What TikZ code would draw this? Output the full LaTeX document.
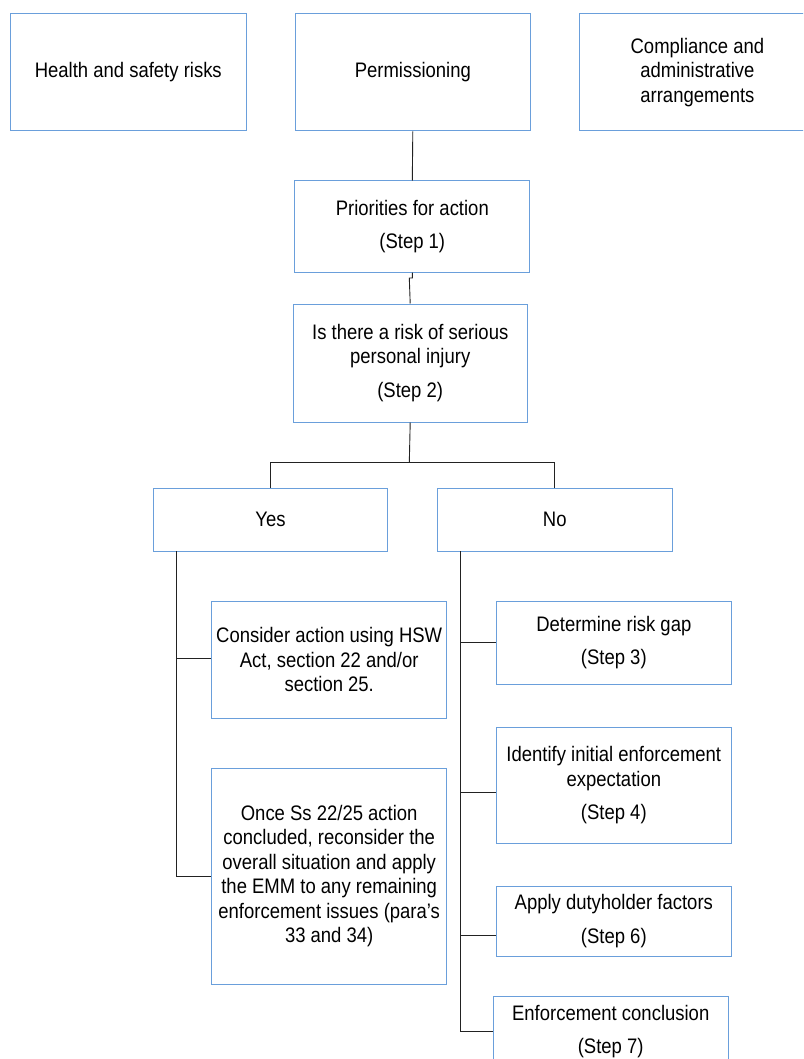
\documentclass[tikz,border=0pt]{standalone}
\usepackage{fontspec}
\setmainfont[FakeStretch=0.88]{Liberation Sans}
\definecolor{boxblue}{HTML}{6A9FDB}
\definecolor{linegray}{HTML}{222222}
\begin{document}
\begin{tikzpicture}[x=1pt,y=-1pt,
  box/.style={draw=boxblue, line width=1pt, fill=white, inner sep=0pt,
    align=center, font=\fontsize{21}{24.5}\selectfont},
  conn/.style={draw=linegray, line width=0.9pt}]
\useasboundingbox (0,0) rectangle (803,1059);
\begin{scope}
\clip (0,0) rectangle (803,1059);
% top row
\node[box, minimum width=235.5pt, minimum height=117pt] (hs) at (128.3,72.5) {Health and safety risks};
\node[box, minimum width=235.5pt, minimum height=117pt] (perm) at (412.8,72.5) {Permissioning};
\node[box, minimum width=235.5pt, minimum height=117pt] (comp) at (697.4,72.5) {Compliance and\\administrative\\arrangements};
% steps
\node[box, minimum width=235.3pt, minimum height=91pt] (pri) at (412.3,226.5) {Priorities for action\\[9pt](Step 1)};
\node[box, minimum width=233.7pt, minimum height=118pt] (s2) at (410.2,363) {Is there a risk of serious\\personal injury\\[9pt](Step 2)};
\node[box, minimum width=234.4pt, minimum height=63pt] (yes) at (270.5,519.5) {Yes};
\node[box, minimum width=235pt, minimum height=63pt] (no) at (554.8,519.5) {No};
% yes branch
\node[box, minimum width=235pt, minimum height=117pt] (hsw) at (329.2,659.5) {Consider action using HSW\\Act, section 22 and/or\\section 25.};
\node[box, minimum width=235pt, minimum height=216pt] (once) at (329.2,876) {Once Ss 22/25 action\\concluded, reconsider the\\overall situation and apply\\the EMM to any remaining\\enforcement issues (para’s\\33 and 34)};
% no branch
\node[box, minimum width=235pt, minimum height=83.3pt] (det) at (613.8,642.7) {Determine risk gap\\[9pt](Step 3)};
\node[box, minimum width=235pt, minimum height=116.3pt] (ident) at (613.8,785.2) {Identify initial enforcement\\expectation\\[9pt](Step 4)};
\node[box, minimum width=235pt, minimum height=70pt] (apply) at (613.8,921) {Apply dutyholder factors\\[9pt](Step 6)};
\node[box, minimum width=234.7pt, minimum height=70pt] (enf) at (610.7,1031.5) {Enforcement conclusion\\[9pt](Step 7)};
% connectors
\draw[conn] (perm.south) -- (pri.north);
\coordinate (jog) at (409.3,278);
\draw[conn] (pri.south) |- (jog) -- (s2.north);
\coordinate (split) at (409.3,462.7);
\draw[conn] (s2.south) -- (split);
\draw[conn] (split) -| (yes.north);
\draw[conn] (split) -| (no.north);
\coordinate (ytop) at (176.7,551);
\coordinate (ybot) at (176.7,876);
\draw[conn] (ytop) -- (ybot) -- (once.west);
\draw[conn] (ytop) |- ([yshift=1pt]hsw.west);
\coordinate (ntop) at (460.7,551);
\coordinate (nbot) at (460.7,1031);
\draw[conn] (ntop) -- (nbot) -- (enf.west |- nbot);
\draw[conn] (ntop) |- (det.west);
\draw[conn] (ntop) |- ([yshift=-7pt]ident.west);
\draw[conn] (ntop) |- ([yshift=-14.7pt]apply.west);
\end{scope}
\end{tikzpicture}
\end{document}
